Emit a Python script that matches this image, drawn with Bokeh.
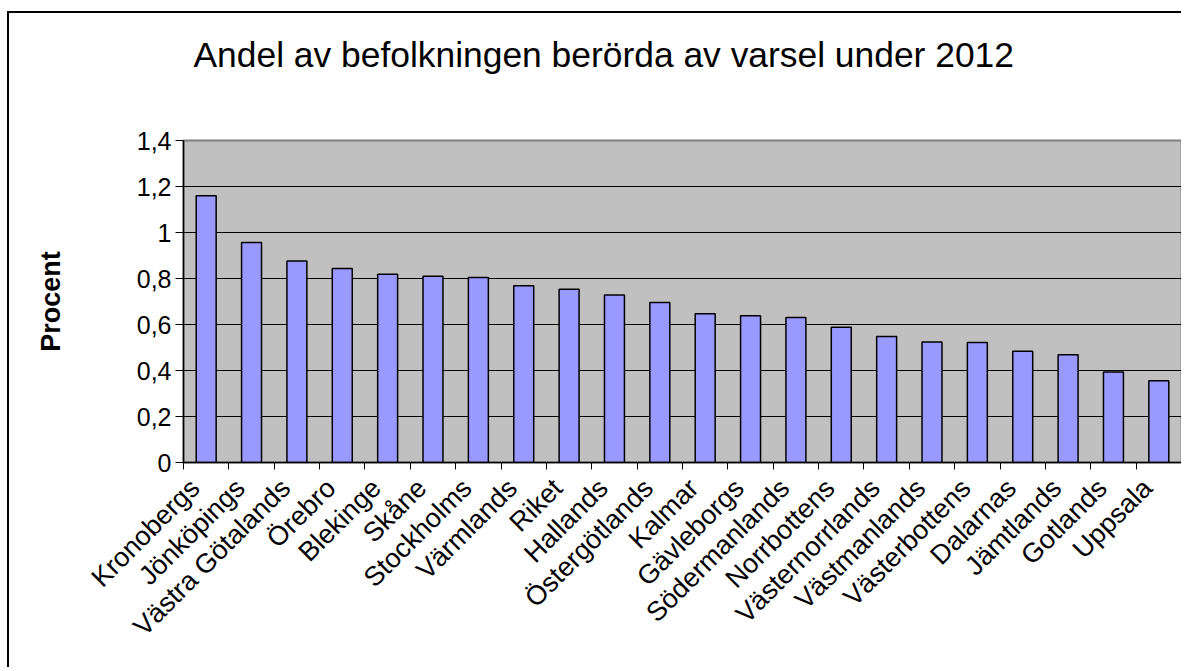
import math
from bokeh.plotting import figure
from bokeh.layouts import column
from bokeh.models import Range1d, FixedTicker, ColumnDataSource, Title
from bokeh.embed import file_html
from bokeh.resources import INLINE

categories = ["Kronobergs", "Jönköpings", "Västra Götalands", "Örebro", "Blekinge",
              "Skåne", "Stockholms", "Värmlands", "Riket", "Hallands",
              "Östergötlands", "Kalmar", "Gävleborgs", "Södermanlands",
              "Norrbottens", "Västernorrlands", "Västmanlands", "Västerbottens",
              "Dalarnas", "Jämtlands", "Gotlands", "Uppsala"]
values = [1.16, 0.957, 0.876, 0.844, 0.818, 0.81, 0.804, 0.769, 0.753, 0.728,
          0.696, 0.647, 0.638, 0.630, 0.588, 0.548, 0.524, 0.522, 0.484, 0.469,
          0.394, 0.355]
y_ticks = [0, 0.2, 0.4, 0.6, 0.8, 1.0, 1.2, 1.4]
y_tick_labels = ["0", "0,2", "0,4", "0,6", "0,8", "1", "1,2", "1,4"]
title_text = "Andel av befolkningen berörda av varsel under 2012"
y_label = "Procent"

FONT = "Liberation Sans"
n = len(categories)
centers = [i + 0.5 for i in range(n)]
label_pos = [c - 0.25 for c in centers]   # label anchor slightly left of bar centre
source = ColumnDataSource(dict(x=centers, top=values, name=categories))

p = figure(width=1175, height=657, x_range=Range1d(0, n), y_range=Range1d(0, 1.4),
           output_backend="svg", toolbar_location=None,
           min_border_left=174, min_border_right=3, min_border_top=127,
           min_border_bottom=208)

p.background_fill_color = "#C0C0C0"
p.border_fill_color = "white"
p.outline_line_color = "#808080"
p.outline_line_width = 2

p.vbar(x="x", top="top", width=0.44, source=source, fill_color="#9999FF",
       line_color="black", line_width=1.5)

# chart title (outermost above panel)
p.title.text = title_text
p.title.text_font = FONT
p.title.text_font_size = "35.4px"
p.title.text_font_style = "normal"
p.title.text_color = "black"
p.title.align = "left"
p.title.offset = 10
p.title.standoff = 10

# blank spacer between frame and title
p.add_layout(Title(text=" ", text_font_size="10px", text_color="white",
                   standoff=48), "above")

# x axis
xa = p.xaxis[0]
xa.ticker = FixedTicker(ticks=label_pos, minor_ticks=list(range(n + 1)))
xa.major_label_overrides = {c: cat for c, cat in zip(label_pos, categories)}
xa.major_tick_line_color = None
xa.major_tick_out = 7
xa.major_tick_in = 0
xa.minor_tick_line_color = "black"
xa.minor_tick_out = 7
xa.minor_tick_in = 0
xa.major_label_orientation = math.pi / 4
xa.major_label_text_font = FONT
xa.major_label_text_font_size = "27px"
xa.major_label_text_color = "black"
xa.major_label_standoff = 14
xa.axis_line_color = "black"
xa.axis_line_width = 1.5

# y axis
ya = p.yaxis[0]
ya.ticker = FixedTicker(ticks=y_ticks)
ya.major_label_overrides = {t: l for t, l in zip(y_ticks, y_tick_labels)}
ya.minor_tick_line_color = None
ya.major_tick_out = 8
ya.major_tick_in = 0
ya.major_tick_line_color = "black"
ya.major_label_text_font = FONT
ya.major_label_text_font_size = "25px"
ya.major_label_text_color = "black"
ya.major_label_standoff = 4
ya.axis_line_color = "black"
ya.axis_line_width = 1.5
ya.axis_label = y_label
ya.axis_label_text_font = FONT
ya.axis_label_text_font_size = "27px"
ya.axis_label_text_font_style = "bold"
ya.axis_label_text_color = "black"
ya.axis_label_standoff = 68

p.xgrid.visible = False
p.ygrid.ticker = FixedTicker(ticks=y_ticks[1:-1])
p.ygrid.grid_line_color = "black"
p.ygrid.grid_line_width = 1

root = column(p)
root.styles = {"margin-left": "9px", "margin-top": "13px",
               "box-shadow": "-2px -2px 0px 0px black",
               "clip-path": "inset(-3px 3px 3px -3px)"}

open("out.html", "w").write(file_html(root, INLINE))
